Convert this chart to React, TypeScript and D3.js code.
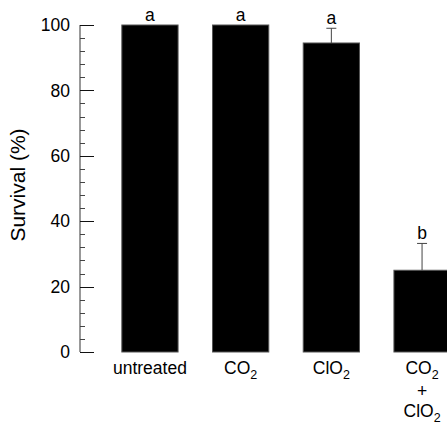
import { useEffect, useRef } from "react";
import * as d3 from "d3";

// values
const groups = ["untreated", "CO2", "ClO2", "CO2+ClO2"];
const survival = [100, 100, 94.5, 25];
const errUp = [0, 0, 4.5, 8.2];
const letters = ["a", "a", "a", "b"];
const majorTicks = [0, 20, 40, 60, 80, 100];

export default function App() {
  const svgRef = useRef<SVGSVGElement>(null);

  useEffect(() => {
    const svg = d3.select(svgRef.current);
    svg.selectAll("*").remove();
    const font = "'Liberation Sans', Arial, sans-serif";

    const y = d3.scaleLinear().domain([0, 100]).range([352, 25]);
    const x = d3
      .scaleBand()
      .domain(groups)
      .range([104.6, 467.4])
      .paddingInner(0.38)
      .paddingOuter(0.19);

    // y axis
    const g = svg.append("g").attr("transform", "translate(80,0)");
    g.append("line")
      .attr("x1", 0).attr("x2", 0)
      .attr("y1", y(0)).attr("y2", y(100))
      .attr("stroke", "#333").attr("stroke-width", 1);

    const minor = d3.range(0, 101, 4).filter(v => v % 20 !== 0);
    g.selectAll(".minor").data(minor).join("line")
      .attr("x1", 0).attr("x2", 5)
      .attr("y1", d => Math.round(y(d)) + 0.5).attr("y2", d => Math.round(y(d)) + 0.5)
      .attr("stroke", "#444");
    g.selectAll(".major").data(majorTicks).join("line")
      .attr("x1", 0).attr("x2", 14)
      .attr("y1", d => Math.round(y(d)) + 0.5).attr("y2", d => Math.round(y(d)) + 0.5)
      .attr("stroke", "#111");
    g.selectAll(".lab").data(majorTicks).join("text")
      .attr("x", -10).attr("y", d => y(d))
      .attr("dy", "0.35em")
      .attr("text-anchor", "end")
      .attr("font-family", font).attr("font-size", 17.5)
      .text(d => d);

    svg.append("text")
      .attr("transform", `translate(25,185) rotate(-90)`)
      .attr("text-anchor", "middle")
      .attr("font-family", font).attr("font-size", 21)
      .text("Survival (%)");

    // bars
    svg.selectAll(".bar").data(groups).join("rect")
      .attr("x", d => x(d)!)
      .attr("y", (d, i) => y(survival[i]))
      .attr("width", x.bandwidth())
      .attr("height", (d, i) => y(0) - y(survival[i]))
      .attr("fill", "#000")
      .attr("stroke", "#555").attr("stroke-width", 1);

    // error bars
    groups.forEach((gr, i) => {
      if (errUp[i] <= 0) return;
      const cx = x(gr)! + x.bandwidth() / 2;
      svg.append("line")
        .attr("x1", cx).attr("x2", cx)
        .attr("y1", y(survival[i])).attr("y2", y(survival[i] + errUp[i]))
        .attr("stroke", "#444");
      svg.append("line")
        .attr("x1", cx - 5).attr("x2", cx + 5)
        .attr("y1", y(survival[i] + errUp[i])).attr("y2", y(survival[i] + errUp[i]))
        .attr("stroke", "#444");
    });

    // significance letters
    svg.selectAll(".letter").data(groups).join("text")
      .attr("x", d => x(d)! + x.bandwidth() / 2)
      .attr("y", (d, i) => y(survival[i] + errUp[i]) - 4.5)
      .attr("text-anchor", "middle")
      .attr("font-family", font).attr("font-size", 17.5)
      .text((d, i) => letters[i]);

    // x labels with subscripts
    const sub = (t: d3.Selection<SVGTextElement, unknown, null, undefined>, base: string) => {
      t.append("tspan").text(base);
      t.append("tspan").attr("font-size", 12.5).attr("dy", 4.5).text("2");
    };
    const cxOf = (d: string) => x(d)! + x.bandwidth() / 2;
    const lab = (cx: number, yy: number) =>
      svg.append("text")
        .attr("x", cx).attr("y", yy)
        .attr("text-anchor", "middle")
        .attr("font-family", font).attr("font-size", 17.5);

    lab(cxOf("untreated"), 374).text("untreated");
    sub(lab(cxOf("CO2"), 374), "CO");
    sub(lab(cxOf("ClO2"), 374), "ClO");
    sub(lab(cxOf("CO2+ClO2"), 374), "CO");
    lab(cxOf("CO2+ClO2"), 397).text("+");
    sub(lab(cxOf("CO2+ClO2"), 417), "ClO");
  }, []);

  return (
    <svg
      ref={svgRef}
      width={447}
      height={425}
      style={{ position: "absolute", left: 0, top: 0, background: "#fff" }}
    />
  );
}
